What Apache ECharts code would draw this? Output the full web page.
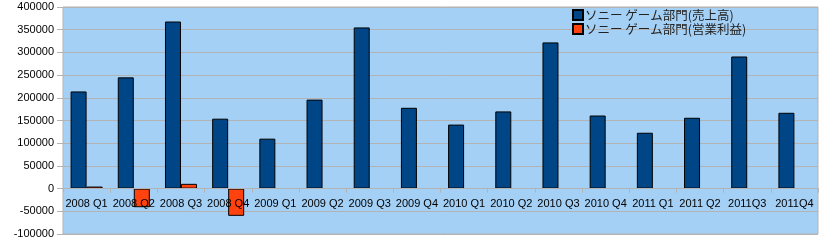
<!DOCTYPE html>
<html><head><meta charset="utf-8">
<script src="https://cdn.jsdelivr.net/npm/echarts@6/dist/echarts.min.js"></script>
<style>html,body{margin:0;padding:0;background:#fff}#c{width:824px;height:250px}</style>
</head><body><div id="c"></div>
<script>
const categories = ['2008 Q1','2008 Q2','2008 Q3','2008 Q4','2009 Q1','2009 Q2','2009 Q3','2009 Q4','2010 Q1','2010 Q2','2010 Q3','2010 Q4','2011 Q1','2011 Q2','2011Q3','2011Q4'];
const sales = [214000,245000,368000,154000,110000,196000,355000,178000,141000,170000,322000,161000,123000,156000,291000,167000];
const opIncome = [4500,-41000,10500,-60000,null,null,null,null,null,null,null,null,null,null,null,null];
const seriesNames = ['ソニー ゲーム部門(売上高)','ソニー ゲーム部門(営業利益)'];
const yTicks = {min:-100000,max:400000,interval:50000};

const gridTop = 7, gridBottom = 16, chartH = 250;
const plotH = chartH - gridTop - gridBottom;
const zeroOffset = -plotH * (0 - yTicks.min) / (yTicks.max - yTicks.min);

const chart = echarts.init(document.getElementById('c'),null,{renderer:'canvas'});
chart.setOption({
  animation:false,
  textStyle:{fontFamily:'"Liberation Sans", Arial, sans-serif'},
  grid:{left:63,right:6,top:gridTop,bottom:gridBottom,outerBoundsMode:'none',containLabel:false,show:true,backgroundColor:'#a4d0f6',borderColor:'#b3b3b3',borderWidth:1},
  legend:{left:572,top:8,padding:0,orient:'vertical',itemWidth:10,itemHeight:10,itemGap:0,
    textStyle:{fontFamily:'"Noto Sans CJK JP", sans-serif',fontSize:12.5,lineHeight:14,color:'#222',padding:[0,0,0,-3]},
    data:seriesNames.map(n=>({name:n,icon:'rect'}))},
  xAxis:{type:'category',data:categories,position:'bottom',offset:zeroOffset,z:10,
    axisLine:{onZero:false,lineStyle:{color:'#b3b3b3',width:1}},
    axisTick:{show:true,length:4,inside:false,lineStyle:{color:'#b3b3b3'}},
    axisLabel:{color:'#000',fontSize:11,margin:10,interval:0},
    splitLine:{show:false}},
  yAxis:{type:'value',min:yTicks.min,max:yTicks.max,interval:yTicks.interval,
    axisLine:{show:false},
    axisTick:{show:true,length:6,lineStyle:{color:'#b3b3b3'}},
    axisLabel:{color:'#000',fontSize:11,margin:9,formatter:v=>String(v)},
    splitLine:{lineStyle:{color:'#b3b3b3',width:1}}},
  series:[
    {name:seriesNames[0],type:'bar',data:sales,barWidth:16,barGap:'0%',
      itemStyle:{color:'#004586',borderColor:'#000',borderWidth:1}},
    {name:seriesNames[1],type:'bar',data:opIncome,barWidth:16,barGap:'0%',
      itemStyle:{color:'#ff420e',borderColor:'#000',borderWidth:1}}
  ]
});
</script></body></html>
